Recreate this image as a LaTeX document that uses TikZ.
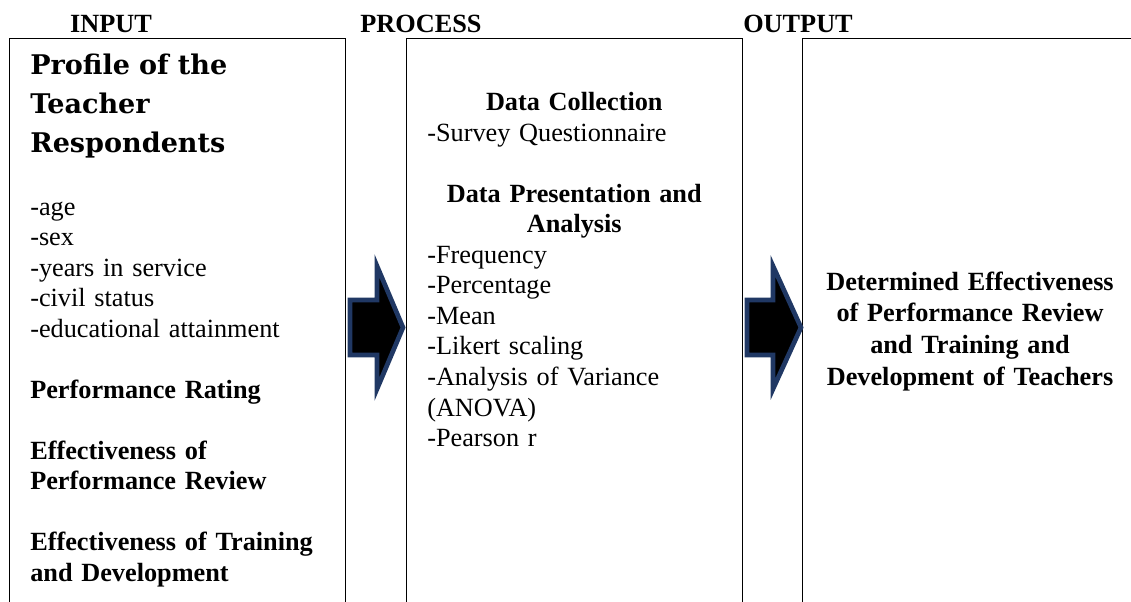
\documentclass[tikz,border=0pt]{standalone}
\usepackage{fontspec}
\setmainfont{Liberation Serif}
\newfontfamily\cabecera{DejaVu Serif}
\usetikzlibrary{positioning}
\definecolor{FlechaNavy}{RGB}{32,56,100}

\begin{document}
\begin{tikzpicture}[x=0.75pt, y=-0.75pt,
	caja/.style={rectangle, draw=black, line width=1pt, anchor=north west,
		minimum width=252pt, minimum height=450pt, inner sep=0pt},
	txt/.style={font=\fontsize{19.7}{22.9}\selectfont, inner sep=0pt,
		anchor=base west, align=left},
	titulo/.style={font=\fontsize{19.7}{22.9}\selectfont\bfseries,
		inner sep=0pt, anchor=base},
	flecha/.style={draw=FlechaNavy, line width=3.5pt, fill=black,
		line join=miter}]
	\useasboundingbox (0,0) rectangle (1131,601);

	% the three open boxes (bottom edge falls off the page)
	\node[caja] (entrada) at (9,38) {};
	\node[caja] (proceso) at (406,38) {};
	\node[caja, minimum width=256pt] (salida) at (802,38) {};

	\node[titulo] (hin) at (111,32) {INPUT};
	\node[titulo] (hpro) at (421,32) {PROCESS};
	\node[titulo] (hout) at (798,32) {OUTPUT};

	% input
	\node[anchor=base west, inner sep=0pt, align=left, text width=240pt,
		font=\cabecera\bfseries\fontsize{20.3}{29.25}\selectfont]
		(perfil) at (30,74) {Profile of the\\Teacher\\Respondents};
	\node[txt, text width=232pt] (variables) at (30,215)
		{-age\\-sex\\-years in service\\-civil status\\-educational attainment\\[22.9pt]
		 \textbf{Performance Rating}\\[22.9pt]
		 \textbf{Effectiveness of}\\\textbf{Performance Review}\\[22.9pt]
		 \textbf{Effectiveness of Training}\\\textbf{and Development}};

	% process
	\node[txt, text width=220.5pt] (metodos) at (427,110.7)
		{{\centering\textbf{Data Collection}\par}
		 -Survey Questionnaire\par
		 \vspace{22.9pt}
		 {\centering\textbf{Data Presentation and}\\\textbf{Analysis}\par}
		 -Frequency\\-Percentage\\-Mean\\-Likert scaling\\-Analysis of Variance\\(ANOVA)\\-Pearson r};

	% output
	\node[inner sep=0pt, anchor=base, text width=232pt, align=center,
		font=\fontsize{19.7}{23.8}\selectfont\bfseries]
		(resultado) at (970,290)
		{Determined Effectiveness\\of Performance Review\\and Training and\\Development of Teachers};

	% block arrows between the boxes
	\foreach \xa/\xb/\xp in {350/377/403, 747/773/801}
		\draw[flecha] (\xa,300) -- (\xb,300) -- (\xb,266) -- (\xp,327.5)
			-- (\xb,389) -- (\xb,355) -- (\xa,355) -- cycle;
\end{tikzpicture}
\end{document}
